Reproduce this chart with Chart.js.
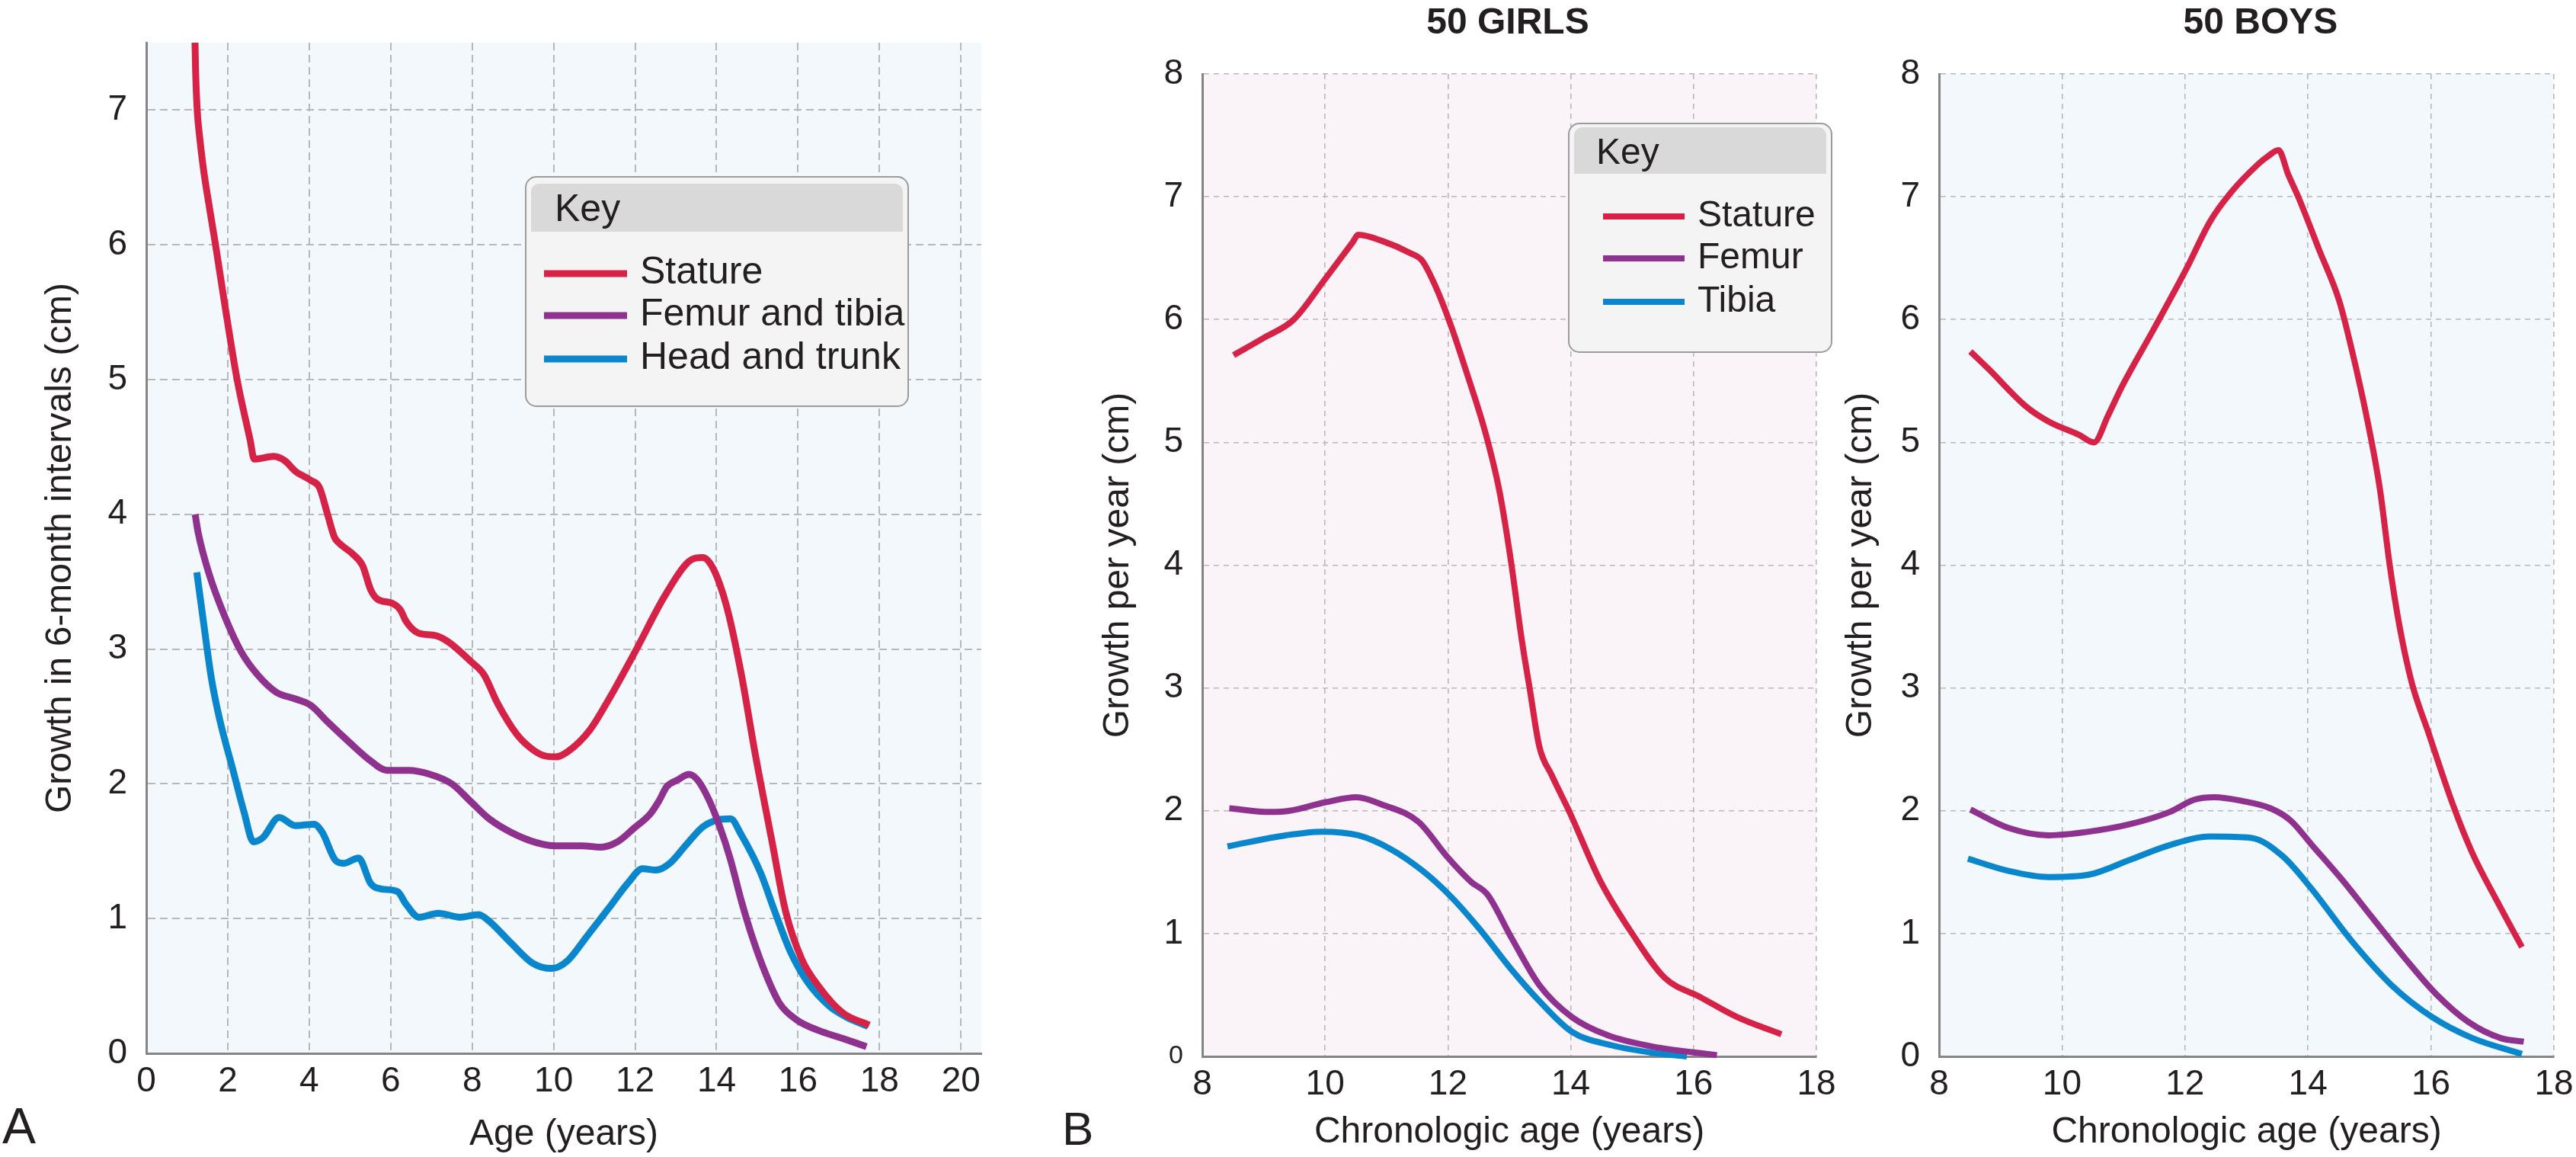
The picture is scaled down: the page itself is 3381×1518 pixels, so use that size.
<!DOCTYPE html>
<html>
<head>
<meta charset="utf-8">
<title>Growth velocity</title>
<script src="https://cdn.jsdelivr.net/npm/chart.js@4.4.1/dist/chart.umd.min.js"></script>
<style>
  html, body { margin: 0; padding: 0; background: #fff; }
  body { width: 3381px; height: 1518px; position: relative; overflow: hidden; }
  canvas { position: absolute; top: 0; }
</style>
</head>
<body>
<canvas id="chartA" width="1330" height="1518" style="left:0"></canvas>
<canvas id="chartGirls" width="1080" height="1518" style="left:1340px"></canvas>
<canvas id="chartBoys" width="981" height="1518" style="left:2400px"></canvas>
<script>
// Panel A - growth in 6-month intervals
const aStatureAge = [1.18, 1.21, 1.25, 1.31, 1.40, 1.50, 1.70, 1.92, 2.23, 2.55, 2.65, 3.13, 3.39, 3.66, 4.05, 4.25, 4.45, 4.62, 4.72, 5.05, 5.31, 5.51, 5.68, 6.04, 6.24, 6.37, 6.67, 7.10, 7.43, 7.96, 8.29, 8.62, 9.09, 9.42, 9.75, 10.05, 10.35, 10.89, 11.36, 12.0, 12.72, 13.32, 13.66, 13.93, 14.27, 14.61, 14.95, 15.35, 15.69, 16.09, 16.5, 17.1, 17.75];
const aStatureCm  = [7.75, 7.3, 7.0, 6.8, 6.57, 6.37, 6.0, 5.57, 5.0, 4.55, 4.41, 4.43, 4.40, 4.32, 4.25, 4.20, 4.0, 3.83, 3.79, 3.71, 3.62, 3.44, 3.37, 3.34, 3.29, 3.21, 3.12, 3.10, 3.05, 2.91, 2.81, 2.60, 2.37, 2.27, 2.21, 2.20, 2.24, 2.40, 2.63, 2.98, 3.39, 3.65, 3.68, 3.59, 3.29, 2.81, 2.22, 1.59, 1.06, 0.70, 0.50, 0.30, 0.21];
const aLegAge = [1.2, 1.27, 1.54, 1.93, 2.33, 2.73, 3.19, 3.66, 4.05, 4.45, 4.98, 5.51, 5.91, 6.44, 6.97, 7.50, 7.96, 8.42, 9.09, 9.75, 10.05, 10.7, 11.16, 11.57, 11.97, 12.38, 12.58, 12.78, 13.05, 13.32, 13.53, 13.80, 14.07, 14.34, 14.61, 14.88, 15.22, 15.55, 15.96, 16.5, 17.1, 17.68];
const aLegCm  = [4.0, 3.87, 3.56, 3.24, 2.98, 2.81, 2.68, 2.63, 2.58, 2.46, 2.31, 2.17, 2.10, 2.10, 2.07, 2.0, 1.87, 1.74, 1.62, 1.55, 1.54, 1.54, 1.53, 1.57, 1.67, 1.78, 1.87, 1.98, 2.03, 2.07, 2.03, 1.89, 1.69, 1.44, 1.13, 0.86, 0.58, 0.37, 0.25, 0.17, 0.11, 0.05];
const aTrunkAge = [1.24, 1.40, 1.60, 1.80, 2.13, 2.40, 2.63, 2.86, 3.26, 3.66, 4.12, 4.32, 4.65, 4.85, 5.21, 5.51, 5.77, 6.17, 6.37, 6.70, 7.17, 7.70, 8.16, 8.42, 8.95, 9.48, 9.95, 10.35, 10.82, 11.36, 11.84, 12.18, 12.51, 12.85, 13.26, 13.66, 14.0, 14.34, 14.61, 15.08, 15.42, 15.82, 16.23, 16.77, 17.18, 17.72];
const aTrunkCm  = [3.57, 3.21, 2.78, 2.48, 2.10, 1.79, 1.57, 1.60, 1.75, 1.69, 1.70, 1.64, 1.43, 1.41, 1.45, 1.26, 1.22, 1.20, 1.11, 1.01, 1.04, 1.01, 1.03, 0.98, 0.82, 0.67, 0.63, 0.69, 0.87, 1.08, 1.27, 1.37, 1.36, 1.41, 1.55, 1.68, 1.73, 1.74, 1.62, 1.34, 1.06, 0.75, 0.53, 0.35, 0.27, 0.20];

// Panel B - 50 girls, growth per year
const gStatureAge = [8.51, 9.0, 9.49, 10.0, 10.45, 10.54, 10.93, 11.39, 11.58, 11.79, 12.05, 12.31, 12.61, 12.84, 13.03, 13.2, 13.33, 13.49, 13.69, 13.98, 14.48, 15.0, 15.53, 16.12, 16.71, 17.43];
const gStatureCm  = [5.71, 5.85, 6.0, 6.33, 6.63, 6.69, 6.64, 6.54, 6.48, 6.28, 5.95, 5.56, 5.08, 4.60, 4.02, 3.40, 3.0, 2.52, 2.29, 1.99, 1.43, 1.0, 0.64, 0.48, 0.32, 0.18];
const gFemurAge = [8.44, 9.10, 9.42, 10.01, 10.51, 10.93, 11.52, 11.98, 12.38, 12.64, 13.03, 13.49, 14.02, 14.61, 15.33, 16.38];
const gFemurCm  = [2.02, 1.99, 2.0, 2.07, 2.11, 2.05, 1.91, 1.63, 1.42, 1.32, 0.97, 0.58, 0.32, 0.17, 0.08, 0.01];
const gTibiaAge = [8.41, 9.36, 9.95, 10.54, 11.06, 11.59, 12.05, 12.51, 13.03, 13.49, 14.02, 14.67, 15.33, 15.89];
const gTibiaCm  = [1.71, 1.80, 1.83, 1.80, 1.69, 1.51, 1.30, 1.04, 0.71, 0.45, 0.20, 0.09, 0.03, 0.0];

// Panel B - 50 boys, growth per year
const bStatureAge = [8.51, 8.80, 9.42, 9.78, 10.28, 10.52, 10.75, 10.97, 11.49, 12.02, 12.41, 12.74, 13.20, 13.35, 13.52, 13.68, 13.85, 14.18, 14.51, 14.71, 14.97, 15.17, 15.33, 15.49, 15.69, 15.95, 16.35, 16.67, 17.07, 17.48];
const bStatureCm  = [5.74, 5.60, 5.29, 5.17, 5.06, 5.0, 5.22, 5.45, 5.92, 6.41, 6.80, 7.03, 7.27, 7.33, 7.38, 7.18, 6.99, 6.57, 6.15, 5.76, 5.17, 4.62, 4.0, 3.50, 3.04, 2.65, 2.06, 1.66, 1.27, 0.89];
const bFemurAge = [8.51, 9.13, 9.78, 10.44, 11.10, 11.75, 12.15, 12.48, 12.93, 13.39, 13.72, 14.05, 14.57, 15.03, 15.56, 16.08, 16.61, 17.13, 17.51];
const bFemurCm  = [2.01, 1.86, 1.80, 1.83, 1.89, 1.99, 2.09, 2.11, 2.08, 2.02, 1.92, 1.73, 1.43, 1.14, 0.81, 0.51, 0.28, 0.15, 0.12];
const bTibiaAge = [8.47, 9.13, 9.78, 10.44, 11.10, 11.75, 12.41, 13.07, 13.59, 14.05, 14.71, 15.36, 16.02, 16.67, 17.48];
const bTibiaCm  = [1.61, 1.51, 1.46, 1.48, 1.60, 1.72, 1.79, 1.78, 1.63, 1.37, 0.94, 0.58, 0.32, 0.15, 0.02];

const RED = '#d62246', PURPLE = '#8e318f', BLUE = '#0a86cc';
const FONT = '"Liberation Sans", Arial, Helvetica, sans-serif';
const INK = '#231f20';

Chart.defaults.font.family = FONT;
Chart.defaults.color = INK;

const pts = (xs, ys) => xs.map((x, i) => ({ x, y: ys[i] }));

function series(label, xs, ys, color, width) {
  return {
    label, data: pts(xs, ys),
    borderColor: color, borderWidth: width,
    pointRadius: 0, fill: false,
    cubicInterpolationMode: 'monotone',
    borderJoinStyle: 'round',
    clip: { left: 10, right: 10, top: 0, bottom: 10 },
  };
}

function roundPath(ctx, x, y, w, h, r) {
  const [tl, tr, br, bl] = r;
  ctx.beginPath();
  ctx.moveTo(x + tl, y);
  ctx.lineTo(x + w - tr, y);
  ctx.arcTo(x + w, y, x + w, y + tr, tr);
  ctx.lineTo(x + w, y + h - br);
  ctx.arcTo(x + w, y + h, x + w - br, y + h, br);
  ctx.lineTo(x + bl, y + h);
  ctx.arcTo(x, y + h, x, y + h - bl, bl);
  ctx.lineTo(x, y + tl);
  ctx.arcTo(x, y, x + tl, y, tl);
  ctx.closePath();
}

// shaded plot area behind the grid
const plotBg = {
  id: 'plotBg',
  beforeDraw(chart, args, opts) {
    const { ctx, chartArea: a } = chart;
    ctx.save();
    ctx.fillStyle = opts.color;
    ctx.fillRect(a.left, a.top, a.right - a.left, a.bottom - a.top);
    ctx.restore();
  }
};

// key box, panel title and panel letter
const decor = {
  id: 'decor',
  afterDraw(chart, args, opts) {
    const ctx = chart.ctx;
    ctx.save();
    ctx.fillStyle = INK;
    if (opts.title) {
      ctx.font = 'bold 48px ' + FONT;
      ctx.textAlign = 'center';
      ctx.textBaseline = 'alphabetic';
      ctx.fillText(opts.title, opts.titleX, 44);
    }
    if (opts.letter) {
      ctx.font = opts.letterSize + 'px ' + FONT;
      ctx.textAlign = 'left';
      ctx.textBaseline = 'alphabetic';
      ctx.fillText(opts.letter, opts.letterX, opts.letterY);
    }
    const k = opts.key;
    if (k) {
      roundPath(ctx, k.x, k.y, k.w, k.h, [14, 14, 14, 14]);
      ctx.fillStyle = '#f4f4f4';
      ctx.fill();
      ctx.lineWidth = 2;
      ctx.strokeStyle = '#9c9c9c';
      ctx.stroke();
      roundPath(ctx, k.x + 7, k.y + k.headTop, k.w - 14, k.headH, [11, 11, 0, 0]);
      ctx.fillStyle = '#d9d9d9';
      ctx.fill();
      ctx.fillStyle = INK;
      ctx.font = k.fontSize + 'px ' + FONT;
      ctx.textAlign = 'left';
      ctx.textBaseline = 'alphabetic';
      ctx.fillText('Key', k.keyX, k.keyBase);
      chart.data.datasets.forEach((ds, i) => {
        const y = k.rows[i];
        ctx.strokeStyle = ds.borderColor;
        ctx.lineWidth = k.lineW;
        ctx.beginPath();
        ctx.moveTo(k.x0, y);
        ctx.lineTo(k.x1, y);
        ctx.stroke();
        ctx.fillText(ds.label, k.textX, y + 13);
      });
    }
    ctx.restore();
  }
};

function scales(o) {
  const grid = { color: '#b8b8b8', lineWidth: o.gridW, drawTicks: false };
  const border = { display: true, color: '#858585', width: 3, dash: o.dash };
  return {
    x: {
      type: 'linear', min: o.xMin, max: o.xMax,
      grid, border,
      ticks: { stepSize: 2, includeBounds: false, padding: 2, font: { size: 46, lineHeight: 1.55 }, color: INK },
      title: { display: true, text: o.xTitle, font: { size: 48 }, color: INK, padding: { top: 0, bottom: o.xTitlePad } },
      afterFit: s => { s.height = o.xHeight; },
    },
    y: {
      type: 'linear', min: 0, max: o.yMax,
      grid, border,
      ticks: {
        stepSize: 1, includeBounds: false, padding: 25, color: INK,
        font: c => ({ size: (o.smallZero && c.tick && c.tick.value === 0) ? 34 : 46 }),
      },
      title: { display: true, text: o.yTitle, font: { size: 48 }, color: INK, padding: { top: o.yTitlePad, bottom: 0 } },
      afterFit: s => { s.width = o.yWidth; },
    },
  };
}

function baseOptions(o, plugins) {
  return {
    responsive: false,
    animation: false,
    events: [],
    layout: { padding: { left: 0, top: o.top, right: o.right, bottom: 0 } },
    scales: scales(o),
    plugins: Object.assign({ legend: { display: false }, tooltip: { enabled: false } }, plugins),
  };
}

new Chart(document.getElementById('chartA'), {
  type: 'line',
  data: { datasets: [
    series('Stature', aStatureAge, aStatureCm, RED, 9),
    series('Femur and tibia', aLegAge, aLegCm, PURPLE, 9),
    series('Head and trunk', aTrunkAge, aTrunkCm, BLUE, 9),
  ] },
  options: baseOptions({
    xMin: 0, xMax: 20.5, yMax: 7.5, top: 56, right: 42,
    yWidth: 192, yTitlePad: 51, xHeight: 136, xTitlePad: 0,
    gridW: 2, dash: [10, 6],
    xTitle: 'Age (years)', yTitle: 'Growth in 6-month intervals (cm)',
  }, {
    plotBg: { color: '#f3f8fc' },
    decor: {
      letter: 'A', letterX: 3, letterY: 1500, letterSize: 66,
      key: { x: 690, y: 232, w: 502, h: 301, headTop: 9, headH: 63, keyX: 728, keyBase: 290, fontSize: 50,
             x0: 714, x1: 823, textX: 840, rows: [359, 414, 471], lineW: 9 },
    },
  }),
  plugins: [plotBg, decor],
});

new Chart(document.getElementById('chartGirls'), {
  type: 'line',
  data: { datasets: [
    series('Stature', gStatureAge, gStatureCm, RED, 8),
    series('Femur', gFemurAge, gFemurCm, PURPLE, 8),
    series('Tibia', gTibiaAge, gTibiaCm, BLUE, 8),
  ] },
  options: baseOptions({
    xMin: 8, xMax: 18, yMax: 8, top: 97, right: 36,
    yWidth: 238, yTitlePad: 99, xHeight: 132, xTitlePad: 3,
    gridW: 1.6, dash: [7, 6], smallZero: true,
    xTitle: 'Chronologic age (years)', yTitle: 'Growth per year (cm)',
  }, {
    plotBg: { color: '#faf4f8' },
    decor: {
      title: '50 GIRLS', titleX: 639,
      letter: 'B', letterX: 54, letterY: 1502, letterSize: 62,
      key: { x: 719, y: 162, w: 345, h: 300, headTop: 5, headH: 61, keyX: 755, keyBase: 215, fontSize: 48,
             x0: 764, x1: 871, textX: 888, rows: [284, 339, 396], lineW: 8 },
    },
  }),
  plugins: [plotBg, decor],
});

new Chart(document.getElementById('chartBoys'), {
  type: 'line',
  data: { datasets: [
    series('Stature', bStatureAge, bStatureCm, RED, 8),
    series('Femur', bFemurAge, bFemurCm, PURPLE, 8),
    series('Tibia', bTibiaAge, bTibiaCm, BLUE, 8),
  ] },
  options: baseOptions({
    xMin: 8, xMax: 18, yMax: 8, top: 97, right: 29,
    yWidth: 145, yTitlePad: 14, xHeight: 132, xTitlePad: 3,
    gridW: 1.6, dash: [7, 6],
    xTitle: 'Chronologic age (years)', yTitle: 'Growth per year (cm)',
  }, {
    plotBg: { color: '#f3f8fc' },
    decor: { title: '50 BOYS', titleX: 567 },
  }),
  plugins: [plotBg, decor],
});
</script>
</body>
</html>
